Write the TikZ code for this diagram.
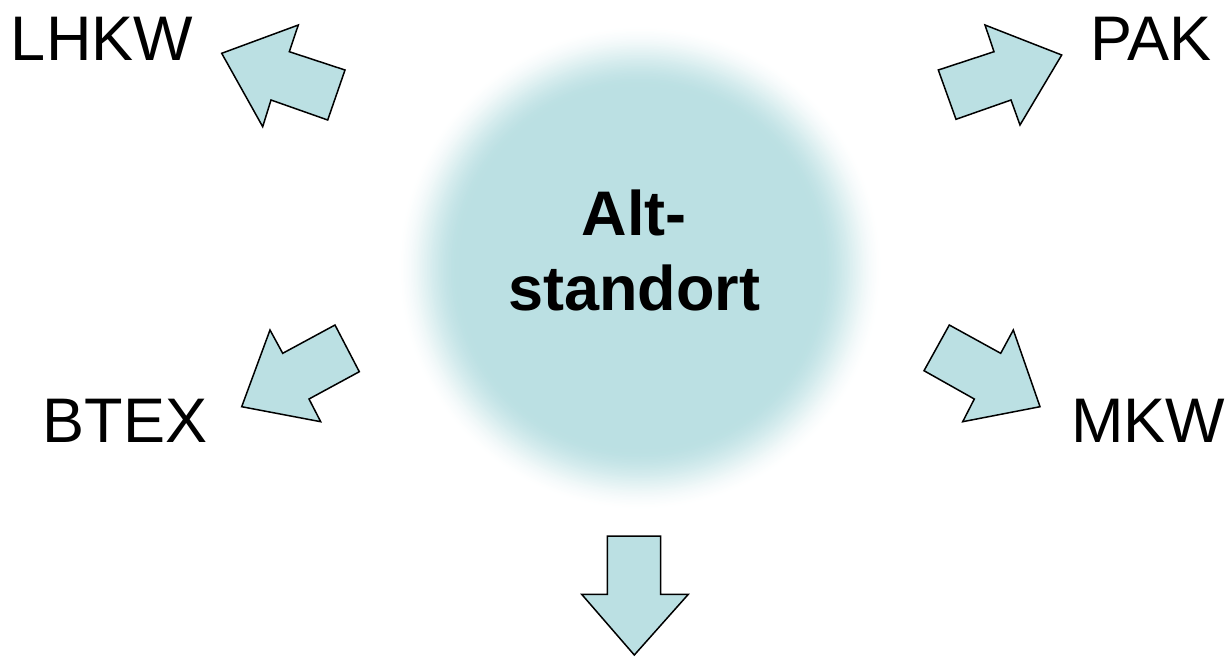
\documentclass[tikz,border=0pt]{standalone}
\usepackage{fontspec}
\setmainfont{Liberation Sans}
\definecolor{cb}{RGB}{187,224,227}
\tikzset{
  arrowshape/.style={fill=cb, draw=black, line width=1.5pt, line join=miter},
  lbl/.style={font=\fontsize{63}{75}\selectfont, inner sep=0pt, anchor=base},
  ctr/.style={font=\fontsize{63}{75}\selectfont\bfseries, inner sep=0pt, anchor=base}
}
\begin{document}
\begin{tikzpicture}[x=1pt,y=-1pt]
\useasboundingbox (0,0) rectangle (1230,657);
% soft circle
\foreach \i in {0,...,40} {
  \pgfmathsetmacro\t{\i/40}
  \pgfmathsetmacro\r{245-\i*1.6}
  \pgfmathtruncatemacro\p{100*(3*\t*\t-2*\t*\t*\t)}
  \fill[cb!\p!white] (640,268) circle (\r pt);
}
\fill[cb] (640,268) circle (181pt);
\coordinate (core) at (640,268);
% centre text
\node[ctr] (alt) at (634,235) {Alt-};
\node[ctr] (standort) at (634,310) {standort};
% labels
\node[lbl] (lhkw) at (102,60) {LHKW};
\node[lbl] (pak) at (1151,60) {PAK};
\node[lbl] (btex) at (125,442) {BTEX};
\node[lbl] (mkw) at (1148,442) {MKW};
% arrows
\draw[arrowshape] (221.7,53.3) -- (298.3,25) -- (289.3,51.7) -- (345,70) -- (327.7,120) -- (271,100) -- (262.7,126.7) -- cycle;
\draw[arrowshape] (1061.7,55) -- (985,25) -- (994,51.7) -- (938.3,70) -- (956,119.3) -- (1011,100) -- (1020,125) -- cycle;
\draw[arrowshape] (241.7,406.7) -- (270,330) -- (282.7,353.3) -- (335,325) -- (359.3,371.7) -- (309,399) -- (320.7,421.7) -- cycle;
\draw[arrowshape] (1040,406.7) -- (1013.3,330) -- (1000.7,353.3) -- (949.3,325) -- (924,370.7) -- (974.3,399) -- (962.7,421.7) -- cycle;
\draw[arrowshape] (634.3,655) -- (581.7,594.3) -- (607.3,594.3) -- (607.3,536) -- (660.7,536) -- (660.7,594.3) -- (688.3,594.3) -- cycle;
\end{tikzpicture}
\end{document}
